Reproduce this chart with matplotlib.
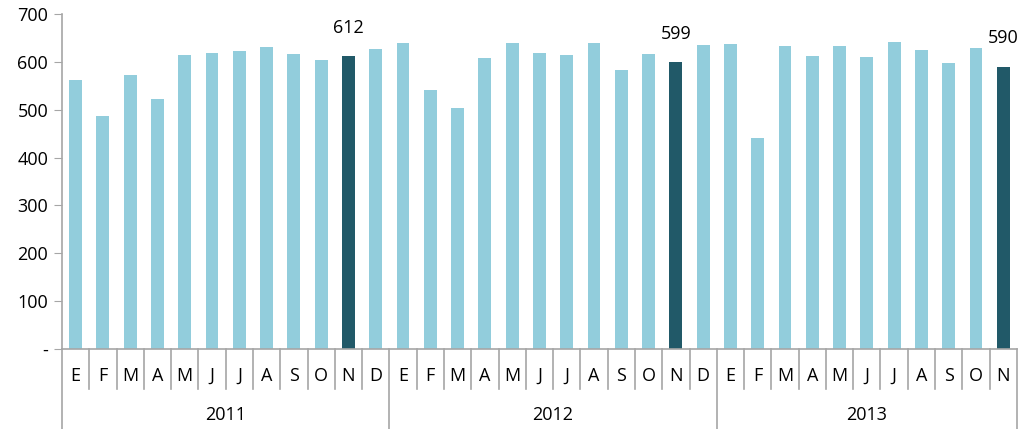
import numpy as np
import matplotlib.pyplot as plt
import matplotlib.transforms as mtransforms

# Monthly values, Jan 2011 - Nov 2013
years = ['2011', '2012', '2013']
months = ['E', 'F', 'M', 'A', 'M', 'J', 'J', 'A', 'S', 'O', 'N', 'D']
v2011 = [562, 487, 572, 523, 614, 619, 622, 632, 617, 605, 612, 627]
v2012 = [640, 542, 504, 609, 639, 619, 614, 640, 584, 617, 599, 636]
v2013 = [638, 441, 634, 612, 633, 610, 641, 626, 597, 629, 590]
highlight = ['2011-N', '2012-N', '2013-N']

LIGHT = '#92cddc'
DARK = '#215968'
GRID = '#a6a6a6'

plt.rcParams['font.family'] = ['Open Sans', 'DejaVu Sans']

vals = v2011 + v2012 + v2013
labels = months + months + months[:11]
keys = [f'{y}-{m}' for y, vs in zip(years, [v2011, v2012, v2013]) for m in months[:len(vs)]]
colors = [DARK if k in highlight else LIGHT for k in keys]
x = np.arange(len(vals))

fig = plt.figure(figsize=(10.21, 4.29), dpi=100)
ax = fig.add_axes([0.0607, 0.1865, 0.9353, 0.7805])
ax.bar(x, vals, width=0.47, color=colors, edgecolor='none')
ax.set_xlim(-0.5, len(vals) - 0.5)
ax.set_ylim(0, 700)
ax.set_yticks(range(0, 701, 100))
ax.set_yticklabels(['-'] + [str(v) for v in range(100, 701, 100)])
ax.tick_params(axis='y', length=6, color=GRID, labelsize=13, pad=4)
ax.tick_params(axis='x', bottom=False, labelbottom=False)
for s in ['top', 'right']:
    ax.spines[s].set_visible(False)
for s in ['left', 'bottom']:
    ax.spines[s].set_color(GRID)
    ax.spines[s].set_linewidth(1.2)

for i in x:
    if colors[i] == DARK:
        ax.annotate(str(vals[i]), (i, vals[i]), xytext=(0, 14), textcoords='offset points',
                    ha='center', va='bottom', fontsize=13)

# multi-level category axis
tr = mtransforms.blended_transform_factory(ax.transData, ax.transAxes)
for i in range(len(vals) + 1):
    b = i - 0.5
    bottom = -0.239 if (i % 12 == 0 or i == len(vals)) else -0.119
    ax.plot([b, b], [0, bottom], transform=tr, color=GRID, lw=1.2, clip_on=False)
for i, lab in enumerate(labels):
    ax.text(i, -0.081, lab, transform=tr, ha='center', va='center', fontsize=13)
for j, y in enumerate(years):
    n = 12 if j < 2 else 11
    ax.text(j * 12 + (n - 1) / 2, -0.197, y, transform=tr, ha='center', va='center', fontsize=13)

fig.savefig('out.png', dpi=100)
